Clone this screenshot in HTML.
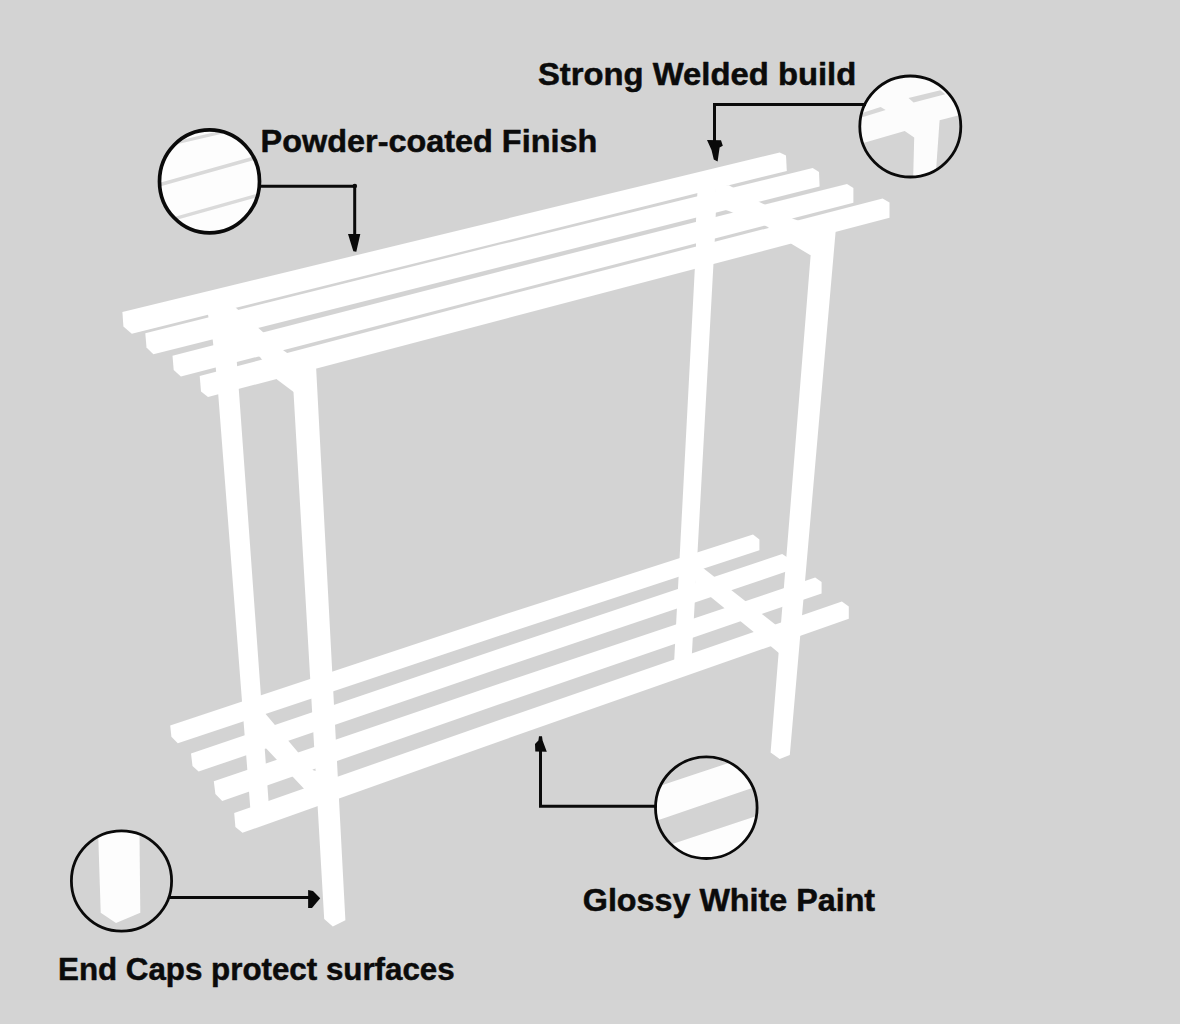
<!DOCTYPE html>
<html lang="en">
<head>
<meta charset="utf-8">
<title>Shoe rack features</title>
<style>
html,body{margin:0;padding:0;background:#d3d3d3;}
body{width:1180px;height:1024px;overflow:hidden;}
svg{display:block;}
</style>
</head>
<body>
<svg width="1180" height="1024" viewBox="0 0 1180 1024">
<rect width="1180" height="1024" fill="#d3d3d3"/>
<rect y="1000" width="1180" height="24" fill="#d4d4d4"/>
<defs><filter id="soft" x="-2%" y="-2%" width="104%" height="104%"><feGaussianBlur stdDeviation="0.6"/></filter></defs>
<g filter="url(#soft)">
<polygon points="207.6,312.5 234.5,305.5 236.8,361.8 268.4,799.4 270.0,822.0 251.5,826.0 250.2,807.0 218.3,395.3 215.8,368.0 212.8,340.6" fill="#fff" />
<polygon points="697.5,190.0 716.0,186.0 715.8,213.4 714.8,239.6 692.0,652.0 691.0,672.0 673.6,676.0 674.3,658.4 696.0,246.2 696.0,220.3" fill="#fff" />
<polygon points="231.0,303.0 234.7,306.8 283.2,350.2 300.0,362.0 316.1,368.0 294.0,392.2 277.0,379.6 260.0,357.0 241.0,346.0 233.0,340.0 231.0,325.0" fill="#fff" />
<polygon points="716.0,186.0 728.8,185.2 759.3,202.0 792.9,218.7 820.0,228.0 836.0,231.5 810.5,255.3 792.1,244.2 767.0,226.4 728.8,211.1 716.0,207.0" fill="#fff" />
<polygon points="293.5,392.0 292.0,372.0 316.1,367.5 345.4,920.3 332.8,926.6 324.2,918.9" fill="#fff" />
<polygon points="810.7,254.6 811.0,238.0 835.6,231.7 789.8,755.0 779.7,758.9 770.6,752.4" fill="#fff" />
<polygon points="258.0,704.9 313.2,770.2 317.5,771.5 322.0,808.0 303.1,787.7 265.8,748.1 262.0,744.5" fill="#fff" />
<polygon points="696.0,562.5 781.0,629.0 779.5,653.5 751.6,630.3 712.0,598.1 695.5,584.5" fill="#fff" />
<polygon points="122.4,312.0 779.7,152.4 786.0,155.4 786.8,170.9 131.8,333.7 123.4,326.5" fill="#fff" />
<polygon points="145.3,333.3 500.0,244.6 812.7,168.1 819.0,172.0 819.6,186.6 153.4,354.2 146.5,347.5" fill="#fff" />
<polygon points="172.5,355.7 500.0,271.4 847.0,183.9 853.4,188.0 853.4,202.7 180.9,376.5 173.7,370.0" fill="#fff" />
<polygon points="199.7,376.0 500.0,297.1 882.6,198.6 889.5,202.5 889.5,217.7 208.0,397.0 201.0,391.5" fill="#fff" />
<polygon points="170.2,725.4 500.0,615.9 753.0,534.4 759.4,539.5 759.4,550.2 500.0,635.6 177.8,743.2 171.4,736.8" fill="#fff" />
<polygon points="191.0,753.4 500.0,648.4 782.2,554.0 788.6,558.3 789.3,570.5 500.0,668.3 198.6,771.6 192.5,766.0" fill="#fff" />
<polygon points="213.8,781.3 500.0,683.6 815.2,577.6 821.6,581.9 821.6,593.4 500.0,704.1 222.2,801.1 215.4,794.0" fill="#fff" />
<polygon points="234.2,813.0 500.0,719.7 841.9,601.5 848.8,606.6 848.8,618.7 500.0,741.2 242.5,832.8 235.4,827.0" fill="#fff" />
</g>
<clipPath id="k1"><ellipse cx="209.5" cy="181.4" rx="50.0" ry="51.5"/></clipPath><g clip-path="url(#k1)"><rect x="150" y="120" width="120" height="120" fill="#fdfdfd"/><line x1="170" y1="144.2" x2="226" y2="131.2" stroke="#dadada" stroke-width="3.2"/><line x1="158" y1="185.1" x2="258" y2="157.0" stroke="#d9d9d9" stroke-width="3.6"/><line x1="172" y1="219.4" x2="260" y2="194.6" stroke="#dadada" stroke-width="3.2"/></g><ellipse cx="209.5" cy="181.4" rx="50.0" ry="51.5" fill="none" stroke="#0a0a0a" stroke-width="3.7"/>
<clipPath id="k2"><ellipse cx="910.3" cy="126.5" rx="50.5" ry="50.5"/></clipPath><g clip-path="url(#k2)"><rect x="850" y="70" width="120" height="120" fill="#fcfcfc"/><polygon points="908.5,98.1 940.3,90.2 945.3,94.3 913.6,102.5" fill="#d6d6d6" /><polygon points="858.0,114.3 880.6,107.0 885.7,110.1 858.0,118.5" fill="#d8d8d8" /><polygon points="855.0,145.5 904.7,131.1 914.2,137.4 913.0,185.0 855.0,185.0" fill="#d4d4d4" /><polygon points="939.6,120.3 970.0,112.5 970.0,185.0 935.0,185.0" fill="#d4d4d4" /></g><ellipse cx="910.3" cy="126.5" rx="50.5" ry="50.5" fill="none" stroke="#0a0a0a" stroke-width="2.8"/>
<clipPath id="k3"><ellipse cx="706.3" cy="807.7" rx="50.8" ry="50.8"/></clipPath><g clip-path="url(#k3)"><rect x="650" y="750" width="120" height="120" fill="#d3d3d3"/><polygon points="650.0,789.1 727.9,763.3 770.0,749.4 770.0,782.0 650.0,822.9" fill="#fdfdfd" /><polygon points="650.0,851.5 770.0,811.5 770.0,870.0 650.0,870.0" fill="#fdfdfd" /></g><ellipse cx="706.3" cy="807.7" rx="50.8" ry="50.8" fill="none" stroke="#0a0a0a" stroke-width="2.8"/>
<clipPath id="k4"><ellipse cx="121.5" cy="881" rx="50.1" ry="50.1"/></clipPath><g clip-path="url(#k4)"><rect x="60" y="820" width="120" height="120" fill="#d3d3d3"/><polygon points="97.9,825.0 139.4,825.0 140.3,912.8 116.0,923.0 100.7,912.8" fill="#fdfdfd" /></g><ellipse cx="121.5" cy="881" rx="50.1" ry="50.1" fill="none" stroke="#0a0a0a" stroke-width="2.8"/>
<polyline points="258.5,186.3 354.7,186.3 354.7,238" fill="none" stroke="#0a0a0a" stroke-width="3"/>
<circle cx="354.8" cy="186.1" r="2.3" fill="#0a0a0a"/>
<polygon points="348.0,234.1 360.3,234.1 356.3,251.7 353.3,251.2" fill="#0a0a0a" />
<polyline points="866,104.6 714.5,104.6 714.5,143" fill="none" stroke="#0a0a0a" stroke-width="3" stroke-linejoin="miter"/>
<polygon points="707.0,140.0 721.0,140.2 722.8,145.8 719.6,147.5 717.6,161.5 713.8,159.5 711.5,150.0" fill="#0a0a0a" />
<polyline points="657,806.3 540.5,806.3 540.5,745" fill="none" stroke="#0a0a0a" stroke-width="3" stroke-linejoin="miter"/>
<polygon points="539.0,736.2 542.0,736.2 542.6,740.5 546.8,751.8 535.3,751.6 535.0,744.0 538.4,740.5" fill="#0a0a0a" />
<line x1="168" y1="897.5" x2="310" y2="897.5" stroke="#0a0a0a" stroke-width="3.2"/>
<polygon points="308.1,890.0 313.0,891.0 320.2,898.3 312.0,908.0 308.1,908.0" fill="#0a0a0a" />
<text x="260.6" y="151.7" font-family="'Liberation Sans', sans-serif" font-weight="700" font-size="31" fill="#0b0b0b" stroke="#0b0b0b" stroke-width="0.5" stroke-linejoin="round" textLength="336.7" lengthAdjust="spacingAndGlyphs">Powder-coated Finish</text>
<text x="538.0" y="85.3" font-family="'Liberation Sans', sans-serif" font-weight="700" font-size="31" fill="#0b0b0b" stroke="#0b0b0b" stroke-width="0.5" stroke-linejoin="round" textLength="318.2" lengthAdjust="spacingAndGlyphs">Strong Welded build</text>
<text x="582.8" y="910.5" font-family="'Liberation Sans', sans-serif" font-weight="700" font-size="31" fill="#0b0b0b" stroke="#0b0b0b" stroke-width="0.5" stroke-linejoin="round" textLength="292.3" lengthAdjust="spacingAndGlyphs">Glossy White Paint</text>
<text x="58.0" y="980.1" font-family="'Liberation Sans', sans-serif" font-weight="700" font-size="31" fill="#0b0b0b" stroke="#0b0b0b" stroke-width="0.5" stroke-linejoin="round" textLength="396.7" lengthAdjust="spacingAndGlyphs">End Caps protect surfaces</text>
</svg>
</body>
</html>
